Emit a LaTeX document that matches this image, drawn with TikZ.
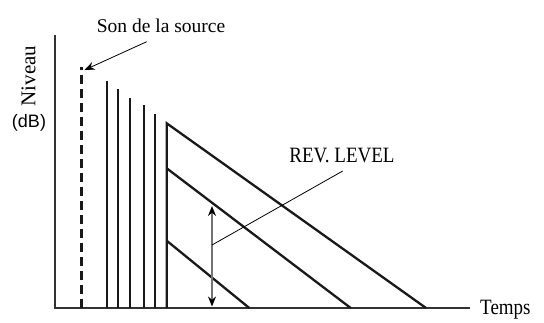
\documentclass[tikz,border=0pt]{standalone}
\usepackage{fontspec}
\setmainfont{Liberation Serif}
\newfontfamily\sansf{Liberation Sans}
\usetikzlibrary{arrows.meta}
\begin{document}
\begin{tikzpicture}[x=1pt,y=-1pt,
  axis/.style={line width=1.2pt,draw=black!80},
  bar/.style={line width=2.3pt,draw=black!90},
  lbl/.style={inner sep=0pt,font=\fontsize{19}{22}\selectfont},
  ptr/.style={line width=0.8pt,-{Stealth[length=10pt,width=8pt]}},
  dbl/.style={line width=1.3pt,draw=black!55,{Stealth[length=10pt,width=8pt,black]}-{Stealth[length=10pt,width=8pt,black]}}]
\useasboundingbox (0,0) rectangle (544,322);
% axes
\coordinate (o) at (55,308);
\coordinate (ytop) at (55,35);
\coordinate (xend) at (470,308);
\draw[axis] (ytop) -- (o) -- (xend);
\node[lbl,anchor=west,yscale=1.15] (temps) at (480,310) {Temps};
\node[lbl,rotate=90,font=\fontsize{21}{24}\selectfont] (niv) at (28.5,76) {Niveau};
\node[inner sep=0pt,font=\sansf\fontsize{18}{21}\selectfont] (db) at (29,123) {(dB)};
% source
\coordinate (s0) at (81.7,308);
\coordinate (s1) at (81.7,67);
\draw[line width=2.6pt,draw=black!90,dash pattern=on 9pt off 5pt] (s0) -- (s1);
\node[lbl,font=\fontsize{19.5}{22}\selectfont] (son) at (161,26) {Son de la source};
\coordinate (sa) at (146.7,41.7);
\coordinate (sb) at (84.5,70);
\draw[ptr] (sa) -- (sb);
% early reflections
\foreach \x/\t in {106.7/81,118.3/89,130/98,144/105,155/114}{
  \draw[bar] (\x,308) -- (\x,\t);
}
% reverberation
\coordinate (r0) at (166.7,308);
\coordinate (r1) at (166.7,123.3);
\coordinate (r2) at (166.7,168.3);
\coordinate (r3) at (166.7,240.7);
\coordinate (e1) at (426,308);
\coordinate (e2) at (350.7,308);
\coordinate (e3) at (249.3,308);
\draw[bar,line join=miter] (r0) -- (r1) -- (e1);
\draw[bar] (r2) -- (e2);
\draw[bar] (r3) -- (e3);
% rev level
\coordinate (a0) at (212,206);
\coordinate (a1) at (212,306.5);
\draw[dbl] (a0) -- (a1);
\node[lbl,yscale=1.15] (rev) at (342,156) {REV. LEVEL};
\coordinate (pm) at (212,245);
\coordinate (pe) at (342.7,171);
\draw[line width=0.8pt] (pm) -- (pe);
\end{tikzpicture}
\end{document}
